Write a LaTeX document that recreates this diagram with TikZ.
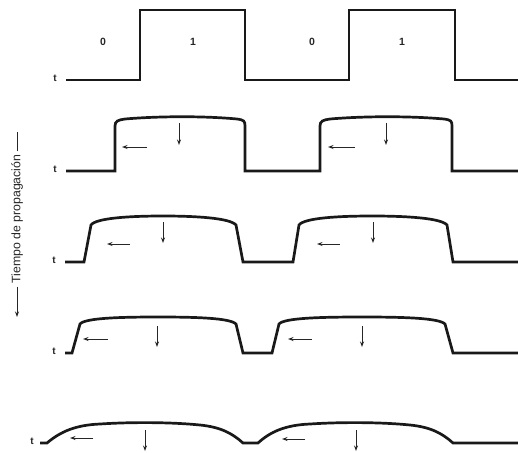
\documentclass[tikz,border=0pt]{standalone}
\usepackage{fontspec}
\setmainfont{Liberation Sans}
\usetikzlibrary{arrows.meta}
\begin{document}
\begin{tikzpicture}[x=1pt,y=-1pt,
  wave/.style={line width=2.7pt,line join=miter,black!90},
  flow/.style={line width=0.9pt,-{Stealth[length=5.5pt,width=4pt]},black!85},
  tlab/.style={font=\bfseries\fontsize{10}{10}\selectfont,inner sep=0pt,black!85},
  bitlab/.style={font=\bfseries\fontsize{10.5}{10.5}\selectfont,inner sep=0pt,black!85}]
\useasboundingbox (0,0) rectangle (518,452);
% row 1
\draw[wave,line width=2.9pt] (66,80) -- (140,80) -- (140,10) -- (245,10) -- (245,80) -- (349,80) -- (349,10) -- (455,10) -- (455,80) -- (518,80);
\node[tlab] (t1) at (55,78) {t};
\node[bitlab] (b1) at (103,42) {0};
\node[bitlab] (b2) at (193,42) {1};
\node[bitlab] (b3) at (312,42) {0};
\node[bitlab] (b4) at (402,42) {1};
% row 2
\draw[wave] (66,171) -- (115,171) -- (115,126) .. controls (115,121) and (118,120) .. (125,119)
  .. controls (160,116) and (205,116) .. (237,119) .. controls (244,120) and (245,121) .. (245,126)
  -- (245,171) -- (320,171) -- (320,126) .. controls (320,121) and (323,120) .. (330,119)
  .. controls (365,116) and (410,116) .. (444,119) .. controls (451,120) and (452,121) .. (452,126)
  -- (452,171) -- (518,171);
\node[tlab] (t2) at (55,169) {t};
\draw[flow] (147,147) -- (122,147);
\draw[flow] (179,123) -- (179,145);
\draw[flow] (355,147) -- (328,147);
\draw[flow] (386,123) -- (386,145);
% row 3
\draw[wave] (65,262) -- (84,262) -- (91,225) .. controls (96,218) and (130,216) .. (163,216)
  .. controls (196,216) and (230,218) .. (236,225) -- (243,262) -- (293,262) -- (299,225)
  .. controls (304,218) and (338,216) .. (372,216) .. controls (406,216) and (441,218) .. (447,225)
  -- (453,262) -- (518,262);
\node[tlab] (t3) at (54,260) {t};
\draw[flow] (130,244) -- (107,244);
\draw[flow] (163,222) -- (163,243);
\draw[flow] (340,244) -- (317,244);
\draw[flow] (373,222) -- (373,243);
% row 4
\draw[wave] (65,353) -- (72,353) -- (80,324) .. controls (85,318) and (120,317) .. (158,317)
  .. controls (196,317) and (230,318) .. (236,324) -- (243,353) -- (272,353) -- (279,324)
  .. controls (284,318) and (320,317) .. (362,317) .. controls (404,317) and (439,318) .. (445,324)
  -- (453,353) -- (518,353);
\node[tlab] (t4) at (54,351) {t};
\draw[flow] (108,339) -- (83,339);
\draw[flow] (157,326) -- (157,347);
\draw[flow] (312,339) -- (288,339);
\draw[flow] (362,326) -- (362,347);
% row 5
\draw[wave] (40,443) -- (47,443) .. controls (60,432) and (75,425) .. (100,424)
  .. controls (130,422) and (170,422) .. (200,425) .. controls (220,427) and (232,433) .. (243,443)
  -- (258,443) .. controls (270,432) and (285,425) .. (310,424)
  .. controls (340,422) and (380,422) .. (410,425) .. controls (430,427) and (442,433) .. (453,443)
  -- (518,443);
\node[tlab] (t5) at (32,441) {t};
\draw[flow] (93,438) -- (70,438);
\draw[flow] (145,430) -- (145,451);
\draw[flow] (305,439) -- (282,439);
\draw[flow] (356,430) -- (356,451);
% vertical label
\node[font=\fontsize{12.3}{12.3}\selectfont,rotate=90,inner sep=1pt,black!85] (lab) at (17,219) {Tiempo de propagación};
\coordinate (labtop) at (17,132);
\coordinate (labbot) at (17,317);
\draw[line width=0.9pt,black!85] (lab.east) ++(0,-2) -- (labtop);
\draw[flow] (lab.west) ++(0,2) -- (labbot);
\end{tikzpicture}
\end{document}
